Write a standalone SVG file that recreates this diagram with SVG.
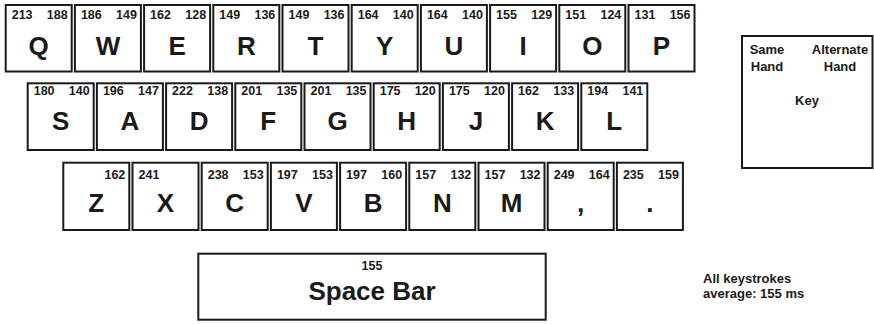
<svg xmlns="http://www.w3.org/2000/svg" width="874" height="324" viewBox="0 0 874 324">
<style>
  .box { fill: #ffffff; stroke: #1a1a1a; stroke-width: 2; }
  text { font-family: "Liberation Sans", Arial, sans-serif; font-weight: bold; fill: #1a1a1a; }
  .num { font-size: 12.5px; }
  .numr { font-size: 12.5px; text-anchor: end; }
  .ltr { font-size: 26px; text-anchor: middle; }
  .key { font-size: 13px; text-anchor: middle; }
  .note { font-size: 13px; }
</style>
<rect width="874" height="324" fill="#ffffff"/>
<g id="top-row">
  <g id="key-Q"><rect class="box" x="5.7" y="5" width="66" height="66.5"/><text class="num" x="11.7" y="19">213</text><text class="numr" x="67.7" y="19">188</text><text class="ltr" x="38.7" y="55">Q</text></g>
  <g id="key-W"><rect class="box" x="74.9" y="5" width="66" height="66.5"/><text class="num" x="80.9" y="19">186</text><text class="numr" x="136.9" y="19">149</text><text class="ltr" x="107.9" y="55">W</text></g>
  <g id="key-E"><rect class="box" x="144.1" y="5" width="66" height="66.5"/><text class="num" x="150.1" y="19">162</text><text class="numr" x="206.1" y="19">128</text><text class="ltr" x="177.1" y="55">E</text></g>
  <g id="key-R"><rect class="box" x="213.3" y="5" width="66" height="66.5"/><text class="num" x="219.3" y="19">149</text><text class="numr" x="275.3" y="19">136</text><text class="ltr" x="246.3" y="55">R</text></g>
  <g id="key-T"><rect class="box" x="282.5" y="5" width="66" height="66.5"/><text class="num" x="288.5" y="19">149</text><text class="numr" x="344.5" y="19">136</text><text class="ltr" x="315.5" y="55">T</text></g>
  <g id="key-Y"><rect class="box" x="351.7" y="5" width="66" height="66.5"/><text class="num" x="357.7" y="19">164</text><text class="numr" x="413.7" y="19">140</text><text class="ltr" x="384.7" y="55">Y</text></g>
  <g id="key-U"><rect class="box" x="420.9" y="5" width="66" height="66.5"/><text class="num" x="426.9" y="19">164</text><text class="numr" x="482.9" y="19">140</text><text class="ltr" x="453.9" y="55">U</text></g>
  <g id="key-I"><rect class="box" x="490.1" y="5" width="66" height="66.5"/><text class="num" x="496.1" y="19">155</text><text class="numr" x="552.1" y="19">129</text><text class="ltr" x="523.1" y="55">I</text></g>
  <g id="key-O"><rect class="box" x="559.3" y="5" width="66" height="66.5"/><text class="num" x="565.3" y="19">151</text><text class="numr" x="621.3" y="19">124</text><text class="ltr" x="592.3" y="55">O</text></g>
  <g id="key-P"><rect class="box" x="628.5" y="5" width="66" height="66.5"/><text class="num" x="634.5" y="19">131</text><text class="numr" x="690.5" y="19">156</text><text class="ltr" x="661.5" y="55">P</text></g>
</g>
<g id="middle-row">
  <g id="key-S"><rect class="box" x="27.7" y="83.3" width="66" height="66.7"/><text class="num" x="33.7" y="95">180</text><text class="numr" x="89.7" y="95">140</text><text class="ltr" x="60.7" y="130">S</text></g>
  <g id="key-A"><rect class="box" x="96.9" y="83.3" width="66" height="66.7"/><text class="num" x="102.9" y="95">196</text><text class="numr" x="158.9" y="95">147</text><text class="ltr" x="129.9" y="130">A</text></g>
  <g id="key-D"><rect class="box" x="166.1" y="83.3" width="66" height="66.7"/><text class="num" x="172.1" y="95">222</text><text class="numr" x="228.1" y="95">138</text><text class="ltr" x="199.1" y="130">D</text></g>
  <g id="key-F"><rect class="box" x="235.3" y="83.3" width="66" height="66.7"/><text class="num" x="241.3" y="95">201</text><text class="numr" x="297.3" y="95">135</text><text class="ltr" x="268.3" y="130">F</text></g>
  <g id="key-G"><rect class="box" x="304.5" y="83.3" width="66" height="66.7"/><text class="num" x="310.5" y="95">201</text><text class="numr" x="366.5" y="95">135</text><text class="ltr" x="337.5" y="130">G</text></g>
  <g id="key-H"><rect class="box" x="373.7" y="83.3" width="66" height="66.7"/><text class="num" x="379.7" y="95">175</text><text class="numr" x="435.7" y="95">120</text><text class="ltr" x="406.7" y="130">H</text></g>
  <g id="key-J"><rect class="box" x="442.9" y="83.3" width="66" height="66.7"/><text class="num" x="448.9" y="95">175</text><text class="numr" x="504.9" y="95">120</text><text class="ltr" x="475.9" y="130">J</text></g>
  <g id="key-K"><rect class="box" x="512.1" y="83.3" width="66" height="66.7"/><text class="num" x="518.1" y="95">162</text><text class="numr" x="574.1" y="95">133</text><text class="ltr" x="545.1" y="130">K</text></g>
  <g id="key-L"><rect class="box" x="581.3" y="83.3" width="66" height="66.7"/><text class="num" x="587.3" y="95">194</text><text class="numr" x="643.3" y="95">141</text><text class="ltr" x="614.3" y="130">L</text></g>
</g>
<g id="bottom-row">
  <g id="key-Z"><rect class="box" x="63.3" y="162.7" width="66" height="67.3"/><text class="numr" x="125.3" y="178.5">162</text><text class="ltr" x="96.3" y="212">Z</text></g>
  <g id="key-X"><rect class="box" x="132.5" y="162.7" width="66" height="67.3"/><text class="num" x="138.5" y="178.5">241</text><text class="ltr" x="165.5" y="212">X</text></g>
  <g id="key-C"><rect class="box" x="201.7" y="162.7" width="66" height="67.3"/><text class="num" x="207.7" y="178.5">238</text><text class="numr" x="263.7" y="178.5">153</text><text class="ltr" x="234.7" y="212">C</text></g>
  <g id="key-V"><rect class="box" x="270.9" y="162.7" width="66" height="67.3"/><text class="num" x="276.9" y="178.5">197</text><text class="numr" x="332.9" y="178.5">153</text><text class="ltr" x="303.9" y="212">V</text></g>
  <g id="key-B"><rect class="box" x="340.1" y="162.7" width="66" height="67.3"/><text class="num" x="346.1" y="178.5">197</text><text class="numr" x="402.1" y="178.5">160</text><text class="ltr" x="373.1" y="212">B</text></g>
  <g id="key-N"><rect class="box" x="409.3" y="162.7" width="66" height="67.3"/><text class="num" x="415.3" y="178.5">157</text><text class="numr" x="471.3" y="178.5">132</text><text class="ltr" x="442.3" y="212">N</text></g>
  <g id="key-M"><rect class="box" x="478.5" y="162.7" width="66" height="67.3"/><text class="num" x="484.5" y="178.5">157</text><text class="numr" x="540.5" y="178.5">132</text><text class="ltr" x="511.5" y="212">M</text></g>
  <g id="key-comma"><rect class="box" x="547.7" y="162.7" width="66" height="67.3"/><text class="num" x="553.7" y="178.5">249</text><text class="numr" x="609.7" y="178.5">164</text><text class="ltr" x="580.7" y="212">,</text></g>
  <g id="key-period"><rect class="box" x="616.9" y="162.7" width="66" height="67.3"/><text class="num" x="622.9" y="178.5">235</text><text class="numr" x="678.9" y="178.5">159</text><text class="ltr" x="649.9" y="212">.</text></g>
</g>
<g id="key-space"><rect class="box" x="198.3" y="253.7" width="347.4" height="66"/><text class="key" x="372" y="270" style="font-size:12.5px">155</text><text class="ltr" x="372" y="300">Space Bar</text></g>
<g id="legend"><rect class="box" x="742" y="36" width="130.5" height="132"/><text class="key" x="767" y="54">Same</text><text class="key" x="767" y="71">Hand</text><text class="key" x="840" y="54">Alternate</text><text class="key" x="840" y="71">Hand</text><text class="key" x="807" y="105">Key</text></g>
<g id="average-note"><text class="note" x="703" y="282.5">All keystrokes</text><text class="note" x="703" y="298">average: 155 ms</text></g>
<g id="connectors"/>
</svg>
